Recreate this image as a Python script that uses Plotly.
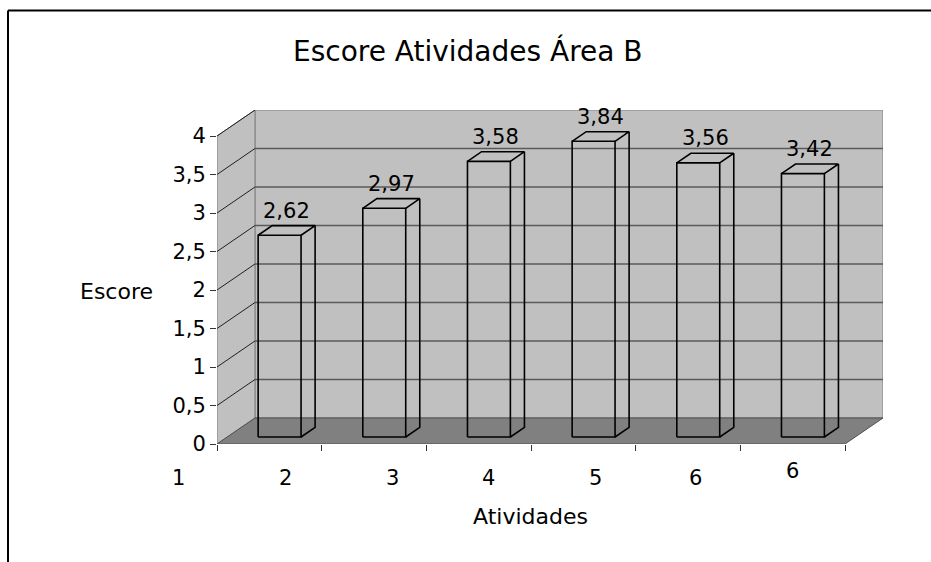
import plotly.graph_objects as go

# ---------------- data ----------------
categories = ["1", "2", "3", "4", "5", "6"]
values = [2.62, 2.97, 3.58, 3.84, 3.56, 3.42]
value_labels = ["2,62", "2,97", "3,58", "3,84", "3,56", "3,42"]
x_tick_labels = ["1", "2", "3", "4", "5", "6", "6"]
y_tick_values = [0, 0.5, 1, 1.5, 2, 2.5, 3, 3.5, 4]
title_text = "Escore Atividades Área B"
x_title = "Atividades"
y_title = "Escore"

# ---------------- layout / style ----------------
W, H = 931, 562
L, R, T, B = 217, 48, 110, 118
FONT = "DejaVu Sans"
DX = 0.363   # depth offset in category units
DY = 0.338   # depth offset in value units
D0, D1 = 0.27, 0.64   # bar depth span
HALF = 0.205          # half bar width (category units)
YMAX = max(y_tick_values)
NCAT = len(categories)
# label positions (category units / value units), layout only
x_label_pos = [-0.37, 0.65, 1.68, 2.59, 3.62, 4.57, 5.50]
x_label_y = [-0.44, -0.44, -0.44, -0.44, -0.44, -0.44, -0.35]

WALL = "#C0C0C0"
FLOOR = "#808080"
EDGE = "#808080"
GRID = "#5a5a5a"


def P(x, v, d):
    return x + d * DX, v + d * DY


def poly(points):
    xs = [p[0] for p in points] + [points[0][0]]
    ys = [p[1] for p in points] + [points[0][1]]
    return xs, ys


def data2paper(x, v):
    return x / (NCAT + DX), v / (YMAX + DY)


def px2paper(px, py):
    return (px - L) / (W - L - R), (H - B - py) / (H - T - B)


fig = go.Figure()

# back wall
bx, by = poly([P(0, 0, 1), P(NCAT, 0, 1), P(NCAT, YMAX, 1), P(0, YMAX, 1)])
fig.add_trace(go.Scatter(x=bx, y=by, mode="lines", fill="toself", fillcolor=WALL,
                         line=dict(color=EDGE, width=1), hoverinfo="skip", cliponaxis=False))
# side wall
sx, sy = poly([P(0, 0, 0), P(0, 0, 1), P(0, YMAX, 1), P(0, YMAX, 0)])
fig.add_trace(go.Scatter(x=sx, y=sy, mode="lines", fill="toself", fillcolor=WALL,
                         line=dict(color=EDGE, width=1), hoverinfo="skip", cliponaxis=False))
# floor
fx, fy = poly([P(0, 0, 0), P(NCAT, 0, 0), P(NCAT, 0, 1), P(0, 0, 1)])
fig.add_trace(go.Scatter(x=fx, y=fy, mode="lines", fill="toself", fillcolor=FLOOR,
                         line=dict(color="#505050", width=1), hoverinfo="skip", cliponaxis=False))

# back wall gridlines
gx, gy = [], []
for v in y_tick_values[1:-1]:
    a, b = P(0, v, 1), P(NCAT, v, 1)
    gx += [a[0], b[0], None]
    gy += [a[1], b[1], None]
fig.add_trace(go.Scatter(x=gx, y=gy, mode="lines", line=dict(color=GRID, width=1.6),
                         hoverinfo="skip", cliponaxis=False))
# side wall gridlines
gx, gy = [], []
for v in y_tick_values[1:]:
    a, b = P(0, v, 0), P(0, v, 1)
    gx += [a[0], b[0], None]
    gy += [a[1], b[1], None]
fig.add_trace(go.Scatter(x=gx, y=gy, mode="lines", line=dict(color="#202020", width=1),
                         hoverinfo="skip", cliponaxis=False))

# bars (wireframe, transparent)
for i, v in enumerate(values):
    c = i + 0.5
    x0, x1 = c - HALF, c + HALF
    segs = [
        [P(x0, 0, D0), P(x1, 0, D0), P(x1, v, D0), P(x0, v, D0), P(x0, 0, D0)],
        [P(x0, v, D0), P(x0, v, D1), P(x1, v, D1), P(x1, v, D0)],
        [P(x1, 0, D0), P(x1, 0, D1), P(x1, v, D1)],
    ]
    xs, ys = [], []
    for s in segs:
        xs += [p[0] for p in s] + [None]
        ys += [p[1] for p in s] + [None]
    fig.add_trace(go.Scatter(x=xs, y=ys, mode="lines", line=dict(color="black", width=1.6),
                             hoverinfo="skip", cliponaxis=False))
    mx, my = P(c, v, (D0 + D1) / 2)
    _, ty_ = P(c, v, D1)
    fig.add_annotation(x=mx, y=ty_, xref="x", yref="y",
                       text=value_labels[i], showarrow=False, xanchor="center",
                       yanchor="bottom", yshift=1,
                       font=dict(family=FONT, size=21, color="black"))

# x tick labels (paper coordinates so that out-of-range ones are kept)
for lab, xp, yp in zip(x_tick_labels, x_label_pos, x_label_y):
    pxp, pyp = data2paper(xp, yp)
    fig.add_annotation(x=pxp, y=pyp, xref="paper", yref="paper", text=lab, showarrow=False,
                       xanchor="center", yanchor="middle",
                       font=dict(family=FONT, size=21, color="black"))

# titles
tx, ty = px2paper(468, 51)
fig.add_annotation(x=tx, y=ty, xref="paper", yref="paper", text=title_text, showarrow=False,
                   xanchor="center", yanchor="middle",
                   font=dict(family=FONT, size=28, color="black"))
ax_, ay_ = px2paper(530, 516)
fig.add_annotation(x=ax_, y=ay_, xref="paper", yref="paper", text=x_title, showarrow=False,
                   xanchor="center", yanchor="middle",
                   font=dict(family=FONT, size=22, color="black"))
ex, ey = px2paper(116, 291)
fig.add_annotation(x=ex, y=ey, xref="paper", yref="paper", text=y_title, showarrow=False,
                   xanchor="center", yanchor="middle",
                   font=dict(family=FONT, size=22, color="black"))

# chart-area border (left and top)
lx0, ly0 = px2paper(8, 10.5)
lx1, ly1 = px2paper(8, 562)
rx1, _ = px2paper(931, 10.5)
fig.add_shape(type="line", xref="paper", yref="paper", x0=lx0, y0=ly0, x1=lx1, y1=ly1,
              line=dict(color="black", width=2))
fig.add_shape(type="line", xref="paper", yref="paper", x0=lx0, y0=ly0, x1=rx1, y1=ly0,
              line=dict(color="black", width=2))

fig.update_layout(
    width=W, height=H, margin=dict(l=L, r=R, t=T, b=B, pad=0),
    paper_bgcolor="white", plot_bgcolor="white", showlegend=False,
    separators=", ",
    font=dict(family=FONT, color="black"),
    xaxis=dict(range=[0, NCAT + DX], showgrid=False, zeroline=False, showline=False,
               tickvals=list(range(NCAT + 1)), ticks="outside", ticklen=6, tickcolor="#333",
               tickwidth=1, showticklabels=False, fixedrange=True),
    yaxis=dict(range=[0, YMAX + DY], showgrid=False, zeroline=False, showline=False,
               tickvals=y_tick_values, ticks="outside", ticklen=6, tickcolor="#333",
               tickwidth=1, tickfont=dict(family=FONT, size=21, color="black"),
               fixedrange=True),
)

fig.write_html("out.html")
